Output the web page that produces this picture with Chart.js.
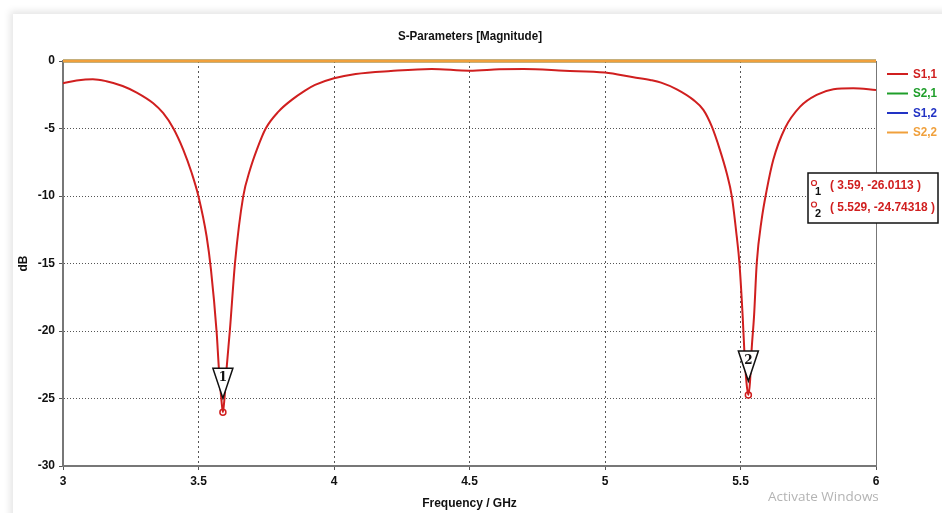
<!DOCTYPE html>
<html>
<head>
<meta charset="utf-8">
<script src="https://cdn.jsdelivr.net/npm/chart.js@4.4.1/dist/chart.umd.min.js"></script>
<style>
    html, body { margin: 0; padding: 0; background: #fff; width: 942px; height: 513px; overflow: hidden; }
    #panel { position: absolute; left: 13px; top: 14px; width: 960px; height: 540px; background: #fff; box-shadow: -3px -3px 7px rgba(0, 0, 0, 0.10); }
    #chart { position: absolute; left: 0; top: 0; }
    #watermark { position: absolute; left: 768px; top: 487px; font-family: 'Open Sans', sans-serif; font-size: 13.5px; color: #b4b4b4; }
</style>
</head>
<body>
<div id="panel"></div>
<canvas id="chart" width="942" height="513"></canvas>
<div id="watermark">Activate Windows</div>
<script>
// S1,1 (GHz / dB)
const freqS11 = [3.0, 3.05, 3.11, 3.16, 3.22, 3.272, 3.333, 3.37, 3.407, 3.444, 3.475, 3.50, 3.53, 3.546, 3.567, 3.575, 3.585, 3.59,
    3.595, 3.604, 3.616, 3.635, 3.665, 3.69, 3.715, 3.748, 3.795, 3.844, 3.893, 3.93, 4.0, 4.08, 4.21, 4.36, 4.5, 4.61, 4.7, 4.85, 5.0,
    5.105, 5.17, 5.207, 5.265, 5.326, 5.363, 5.394, 5.424, 5.449, 5.468, 5.486, 5.496, 5.508, 5.514, 5.522, 5.529, 5.535, 5.541, 5.55,
    5.56, 5.578, 5.597, 5.621, 5.664, 5.72, 5.781, 5.843, 5.916, 6.0];
const dbS11 = [-1.65, -1.45, -1.35, -1.5, -1.85, -2.34, -3.13, -3.87, -4.98, -6.58, -8.3, -10.03, -13.0, -15.45, -20.1, -22.7, -25.2, -26.01,
    -25.2, -22.7, -19.9, -14.9, -10.03, -8.06, -6.58, -5.0, -3.75, -2.88, -2.19, -1.77, -1.28, -0.96, -0.74, -0.59, -0.72, -0.62, -0.59, -0.72, -0.86,
    -1.21, -1.42, -1.6, -2.1, -2.88, -3.62, -4.85, -6.58, -8.3, -10.03, -12.98, -14.95, -18.9, -21.4, -23.8, -24.74, -23.8, -21.4, -18.9,
    -14.95, -11.75, -9.53, -7.32, -4.98, -3.38, -2.51, -2.1, -2.02, -2.14];

// the other three traces sit on 0 dB
const freqFlat = [3, 6];
const dbS21 = [0, 0];
const dbS12 = [0, 0];
const dbS22 = [0, 0];

const seriesLabels = ["S1,1", "S2,1", "S1,2", "S2,2"];
const seriesColors = ["#d01f1f", "#1f9e2a", "#2233c4", "#f0a03c"];

const markerFreqs = [3.59, 5.529];
const markerValues = [-26.0113, -24.74318];

const xTicks = [3, 3.5, 4, 4.5, 5, 5.5, 6];
const yTicks = [0, -5, -10, -15, -20, -25, -30];

const FONT = "'Liberation Sans', Arial, sans-serif";
Chart.defaults.font.family = FONT;

const toPoints = (xs, ys) => xs.map((x, i) => ({ x, y: ys[i] }));

// text squeezed to a given width (the original uses a condensed face)
function narrowText(ctx, text, x, y, width) {
    const w = ctx.measureText(text).width;
    const sx = Math.min(1, width / w);
    ctx.save();
    ctx.translate(x, y);
    ctx.scale(sx, 1);
    ctx.fillText(text, 0, 0);
    ctx.restore();
}

// title, frame, legend, markers, marker table
const extras = {
    id: "extras",
    afterDatasetsDraw(chart) {
        const { ctx, chartArea: a, scales: { x, y } } = chart;
        ctx.save();
        ctx.strokeStyle = "#777";
        ctx.lineWidth = 1;
        ctx.beginPath();
        ctx.moveTo(a.right + 0.5, a.top);
        ctx.lineTo(a.right + 0.5, a.bottom);
        ctx.stroke();

        markerFreqs.forEach((f, i) => {
            const px = x.getPixelForValue(f);
            const py = y.getPixelForValue(markerValues[i]);
            ctx.strokeStyle = seriesColors[0];
            ctx.lineWidth = 1.5;
            ctx.beginPath();
            ctx.arc(px, py, 3, 0, Math.PI * 2);
            ctx.stroke();

            const apex = py - 14, top = py - 44;
            ctx.beginPath();
            ctx.moveTo(px - 10, top);
            ctx.lineTo(px + 10, top);
            ctx.lineTo(px, apex);
            ctx.closePath();
            ctx.fillStyle = "#fff";
            ctx.fill();
            ctx.strokeStyle = "#111";
            ctx.lineWidth = 1.5;
            ctx.stroke();
            ctx.fillStyle = "#111";
            ctx.font = "bold 12px 'DejaVu Serif', serif";
            ctx.textAlign = "center";
            ctx.textBaseline = "middle";
            ctx.fillText(String(i + 1), px, top + 10);
        });
        ctx.restore();
    },
    afterDraw(chart) {
        const { ctx } = chart;
        ctx.save();
        ctx.fillStyle = "#111";
        ctx.font = "bold 13px " + FONT;
        ctx.textAlign = "left";
        ctx.textBaseline = "middle";
        narrowText(ctx, "S-Parameters [Magnitude]", 398, 36, 144);

        // legend
        ctx.font = "bold 13px " + FONT;
        seriesLabels.forEach((lab, i) => {
            const yy = 74 + i * 19.5;
            ctx.strokeStyle = seriesColors[i];
            ctx.lineWidth = 2;
            ctx.beginPath();
            ctx.moveTo(887, yy);
            ctx.lineTo(908, yy);
            ctx.stroke();
            ctx.fillStyle = seriesColors[i];
            narrowText(ctx, lab, 913, yy, 24);
        });

        // marker readout box
        ctx.fillStyle = "#fff";
        ctx.fillRect(808, 173, 130, 50);
        ctx.strokeStyle = "#111";
        ctx.lineWidth = 1.5;
        ctx.strokeRect(808, 173, 130, 50);
        const rows = markerFreqs.map((f, i) => "( " + f + ", " + markerValues[i] + " )");
        ctx.font = "bold 12px " + FONT;
        const squeeze = Math.min(1, 105 / Math.max(...rows.map(r => ctx.measureText(r).width)));
        rows.forEach((txt, i) => {
            const yy = 186 + i * 21.5;
            ctx.strokeStyle = seriesColors[0];
            ctx.lineWidth = 1.2;
            ctx.beginPath();
            ctx.arc(814, yy - 3, 2.5, 0, Math.PI * 2);
            ctx.stroke();
            ctx.fillStyle = "#111";
            ctx.font = "bold 11px " + FONT;
            ctx.fillText(String(i + 1), 815, yy + 6);
            ctx.fillStyle = seriesColors[0];
            ctx.font = "bold 12px " + FONT;
            narrowText(ctx, txt, 830, yy, ctx.measureText(txt).width * squeeze);
        });
        ctx.restore();
    }
};

const gridEdge = (edges) => (c) => (c.tick && edges.includes(c.tick.value) ? "rgba(0,0,0,0)" : "#555");

new Chart(document.getElementById("chart"), {
    type: "line",
    data: {
        datasets: [
            { label: seriesLabels[0], data: toPoints(freqS11, dbS11), borderColor: seriesColors[0], borderWidth: 2, order: 0, cubicInterpolationMode: "monotone" },
            { label: seriesLabels[1], data: toPoints(freqFlat, dbS21), borderColor: seriesColors[1], borderWidth: 2.5, order: 2, clip: false },
            { label: seriesLabels[2], data: toPoints(freqFlat, dbS12), borderColor: seriesColors[2], borderWidth: 2.5, order: 3, clip: false },
            { label: seriesLabels[3], data: toPoints(freqFlat, dbS22), borderColor: seriesColors[3], borderWidth: 3, order: 1, clip: false }
        ]
    },
    options: {
        responsive: false,
        animation: false,
        elements: { point: { radius: 0 } },
        layout: { padding: { top: 61, right: 66, left: 0, bottom: 0 } },
        plugins: { legend: { display: false }, tooltip: { enabled: false } },
        scales: {
            x: {
                type: "linear",
                min: 3,
                max: 6,
                afterBuildTicks: (s) => { s.ticks = xTicks.map(v => ({ value: v })); },
                afterFit: (s) => { s.height = 47; },
                ticks: { color: "#111", font: { size: 12, weight: "bold" }, padding: 4, maxRotation: 0, callback: (v) => String(v) },
                grid: { color: gridEdge([3, 6]), tickColor: "#555", tickLength: 4, lineWidth: 1 },
                border: { display: true, color: "#777", width: 2, dash: [2, 3] },
                title: { display: true, text: "Frequency / GHz", color: "#111", font: { size: 12, weight: "bold" }, padding: { top: 0, bottom: 2 } }
            },
            y: {
                min: -30,
                max: 0,
                afterBuildTicks: (s) => { s.ticks = yTicks.map(v => ({ value: v })); },
                afterFit: (s) => { s.width = 63; },
                ticks: { color: "#111", font: { size: 12, weight: "bold" }, padding: 4, callback: (v) => String(v) },
                grid: { color: gridEdge([0, -30]), tickColor: "#555", tickLength: 4, lineWidth: 1 },
                border: { display: true, color: "#777", width: 2, dash: [1, 2] },
                title: { display: true, text: "dB", color: "#111", font: { size: 12, weight: "bold" }, padding: { top: 16, bottom: 0 } }
            }
        }
    },
    plugins: [extras]
});
</script>
</body>
</html>
